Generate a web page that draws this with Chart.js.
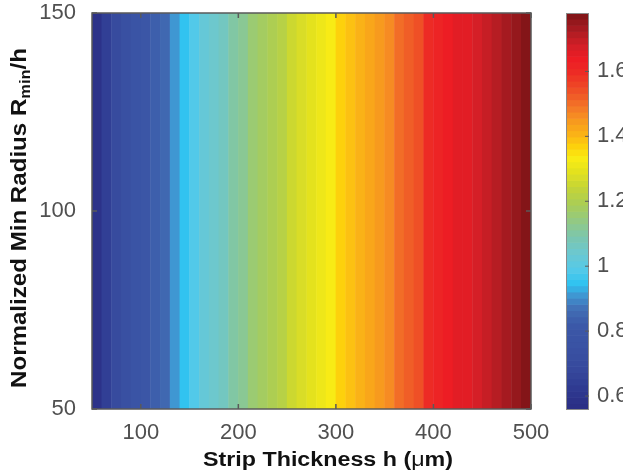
<!DOCTYPE html>
<html>
<head>
<meta charset="utf-8">
<script src="https://cdn.jsdelivr.net/npm/chart.js@4.4.0/dist/chart.umd.min.js"></script>
<style>
  html, body { margin: 0; padding: 0; background: #fff; }
  #wrap { position: relative; width: 623px; height: 476px; overflow: hidden; }
  #mapChart { position: absolute; left: 0; top: 0; }
  #barChart { position: absolute; left: 540px; top: 0; }
</style>
</head>
<body>
<div id="wrap">
  <canvas id="mapChart" width="623" height="476"></canvas>
  <canvas id="barChart" width="83" height="476"></canvas>
</div>
<script>
// strip thickness h (um), centre of each 10 um cell
const thicknessH = [55, 65, 75, 85, 95, 105, 115, 125, 135, 145,
  155, 165, 175, 185, 195, 205, 215, 225, 235, 245,
  255, 265, 275, 285, 295, 305, 315, 325, 335, 345,
  355, 365, 375, 385, 395, 405, 415, 425, 435, 445,
  455, 465, 475, 485, 495];
// colour value for each thickness cell
const stripValue = [0.58, 0.64, 0.70, 0.74, 0.77, 0.80, 0.83, 0.86, 0.91, 0.95,
  0.99, 1.02, 1.05, 1.07, 1.10, 1.13, 1.15, 1.18, 1.20, 1.22,
  1.25, 1.27, 1.29, 1.32, 1.34, 1.37, 1.39, 1.41, 1.43, 1.45,
  1.47, 1.50, 1.53, 1.55, 1.59, 1.62, 1.63, 1.65, 1.66, 1.68,
  1.70, 1.72, 1.73, 1.75, 1.77];
// normalized min radius span covered by every cell
const radiusRange = [50, 150];

const xTicks = [100, 200, 300, 400, 500];
const yTicks = [50, 100, 150];
const cbarTicks = [0.6, 0.8, 1, 1.2, 1.4, 1.6];
const cbarTickLabels = ['0.6', '0.8', '1', '1.2', '1.4', '1.6'];
const cbarMin = 0.557;
const cbarMax = 1.78;
const cbarLevels = 64;

// colormap stops: [value, colour]
const cmapStops = [
  [0.557, '#2a2d84'], [0.62, '#2e3990'], [0.68, '#36489c'], [0.75, '#3a52a3'],
  [0.82, '#3b58a8'], [0.87, '#4270b6'], [0.91, '#3f96d2'], [0.945, '#2fc3f1'],
  [0.99, '#55c9e8'], [1.04, '#6cc8d0'], [1.09, '#7bc6ae'], [1.14, '#93c983'],
  [1.19, '#a9cd56'], [1.24, '#c3d438'], [1.29, '#e3e11e'], [1.33, '#f8ec15'],
  [1.365, '#fdd50b'], [1.40, '#fbb716'], [1.44, '#f89e1c'], [1.48, '#f47f27'],
  [1.52, '#f05f27'], [1.56, '#ee4325'], [1.60, '#ed2a25'], [1.64, '#ed1c24'],
  [1.68, '#d21f27'], [1.72, '#b01c22'], [1.78, '#7c1416']
];

function hexRgb(h) {
  return [parseInt(h.slice(1, 3), 16), parseInt(h.slice(3, 5), 16), parseInt(h.slice(5, 7), 16)];
}

function cmapAt(v) {
  if (v <= cmapStops[0][0]) return cmapStops[0][1];
  for (let i = 1; i < cmapStops.length; i++) {
    if (v <= cmapStops[i][0]) {
      const a = cmapStops[i - 1], b = cmapStops[i];
      const t = (v - a[0]) / (b[0] - a[0]);
      const ca = hexRgb(a[1]), cb = hexRgb(b[1]);
      const c = ca.map((x, k) => Math.round(x + (cb[k] - x) * t));
      return `rgb(${c[0]}, ${c[1]}, ${c[2]})`;
    }
  }
  return cmapStops[cmapStops.length - 1][1];
}

// quantize to the colorbar's discrete levels
const levelStep = (cbarMax - cbarMin) / cbarLevels;
function levelColor(v) {
  let idx = Math.floor((v - cbarMin) / levelStep);
  idx = Math.max(0, Math.min(cbarLevels - 1, idx));
  return cmapAt(cbarMin + (idx + 0.5) * levelStep);
}

const levelCentres = [];
for (let i = 0; i < cbarLevels; i++) levelCentres.push(cbarMin + (i + 0.5) * levelStep);

const tickFont = { family: 'Liberation Sans, Arial, sans-serif', size: 22 };
const tickColor = '#505050';
const frameColor = '#5a5a5a';

// keep the plot box exactly where the layout padding puts it
function noScalePadding(s) {
  s.paddingTop = 0; s.paddingBottom = 0; s.paddingLeft = 0; s.paddingRight = 0;
}

// draws runs of text one after another, each with its own font / shift
function drawRuns(ctx, runs, width) {
  let total = 0;
  runs.forEach(r => { ctx.font = r.font; r.w = ctx.measureText(r.text).width; total += r.w; });
  const sx = width ? width / total : 1;
  ctx.save();
  ctx.scale(sx, 1);
  let u = -total / 2;
  runs.forEach(r => {
    ctx.font = r.font;
    ctx.fillText(r.text, u, r.dy || 0);
    u += r.w;
  });
  ctx.restore();
}

// frame, inward ticks and axis titles
const mapFrame = {
  id: 'mapFrame',
  afterDatasetsDraw(chart) {
    const { ctx, chartArea: a, scales } = chart;
    ctx.save();
    ctx.strokeStyle = frameColor;
    ctx.lineWidth = 1.5;
    ctx.strokeRect(a.left, a.top, a.right - a.left, a.bottom - a.top);
    ctx.beginPath();
    xTicks.forEach(v => {
      const px = scales.x.getPixelForValue(v);
      ctx.moveTo(px, a.bottom); ctx.lineTo(px, a.bottom - 5);
      ctx.moveTo(px, a.top); ctx.lineTo(px, a.top + 5);
    });
    yTicks.forEach(v => {
      const py = scales.y.getPixelForValue(v);
      ctx.moveTo(a.left, py); ctx.lineTo(a.left + 5, py);
      ctx.moveTo(a.right, py); ctx.lineTo(a.right - 5, py);
    });
    ctx.stroke();
    ctx.restore();
  },
  afterDraw(chart) {
    const { ctx } = chart;
    ctx.save();
    ctx.fillStyle = '#111';
    ctx.textBaseline = 'alphabetic';
    ctx.textAlign = 'left';
    ctx.save();
    ctx.translate(328, 466);
    drawRuns(ctx, [
      { text: 'Strip Thickness h (', font: 'bold 20px Liberation Sans, Arial, sans-serif' },
      { text: '\u03bc', font: '20px Liberation Sans, Arial, sans-serif' },
      { text: 'm)', font: 'bold 20px Liberation Sans, Arial, sans-serif' }
    ], 250);
    ctx.restore();
    ctx.save();
    ctx.translate(26, 218);
    ctx.rotate(-Math.PI / 2);
    drawRuns(ctx, [
      { text: 'Normalized Min Radius R', font: 'bold 22px Liberation Sans, Arial, sans-serif' },
      { text: 'min', font: 'bold 15px Liberation Sans, Arial, sans-serif', dy: 4 },
      { text: '/h', font: 'bold 22px Liberation Sans, Arial, sans-serif' }
    ], 340);
    ctx.restore();
    ctx.restore();
  }
};

new Chart('mapChart', {
  type: 'bar',
  data: {
    datasets: [{
      data: thicknessH.map(h => ({ x: h, y: radiusRange })),
      backgroundColor: stripValue.map(levelColor),
      borderWidth: 0,
      barPercentage: 1.05,
      categoryPercentage: 1
    }]
  },
  options: {
    responsive: false,
    animation: false,
    layout: { padding: { top: 13, right: 92, left: 0, bottom: 0 } },
    plugins: { legend: { display: false }, tooltip: { enabled: false } },
    scales: {
      x: {
        type: 'linear', min: 50, max: 500, offset: false,
        grid: { display: false, drawTicks: false }, border: { display: false },
        afterBuildTicks: s => { s.ticks = xTicks.map(v => ({ value: v })); },
        afterFit: s => { s.height = 67; noScalePadding(s); },
        ticks: { padding: 11, color: tickColor, font: tickFont, maxRotation: 0 }
      },
      y: {
        type: 'linear', min: 50, max: 150,
        grid: { display: false, drawTicks: false }, border: { display: false },
        afterBuildTicks: s => { s.ticks = yTicks.map(v => ({ value: v })); },
        afterFit: s => { s.width = 92; noScalePadding(s); },
        ticks: { padding: 16, color: tickColor, font: tickFont }
      }
    }
  },
  plugins: [mapFrame]
});

// colorbar frame and ticks
const barFrame = {
  id: 'barFrame',
  afterDatasetsDraw(chart) {
    const { ctx, chartArea: a, scales } = chart;
    ctx.save();
    ctx.strokeStyle = '#8a8a8a';
    ctx.lineWidth = 1;
    ctx.strokeRect(a.left + 0.5, a.top + 0.5, a.right - a.left - 1, a.bottom - a.top - 1);
    ctx.strokeStyle = frameColor;
    ctx.beginPath();
    cbarTicks.forEach(v => {
      const py = scales.y.getPixelForValue(v);
      ctx.moveTo(a.right, py); ctx.lineTo(a.right - 4, py);
    });
    ctx.stroke();
    ctx.restore();
  }
};

new Chart('barChart', {
  type: 'bar',
  data: {
    datasets: [{
      data: levelCentres.map(c => ({ x: [0, 1], y: c })),
      backgroundColor: levelCentres.map(levelColor),
      borderWidth: 0,
      barPercentage: 1.1,
      categoryPercentage: 1
    }]
  },
  options: {
    indexAxis: 'y',
    responsive: false,
    animation: false,
    layout: { padding: { left: 26, top: 13, bottom: 66, right: 0 } },
    plugins: { legend: { display: false }, tooltip: { enabled: false } },
    scales: {
      x: { type: 'linear', min: 0, max: 1, display: false },
      y: {
        type: 'linear', position: 'right', min: cbarMin, max: cbarMax, offset: false,
        grid: { display: false, drawTicks: false }, border: { display: false },
        afterBuildTicks: s => { s.ticks = cbarTicks.map(v => ({ value: v })); },
        afterFit: s => { s.width = 34; noScalePadding(s); },
        ticks: { padding: 8, color: tickColor, font: tickFont, callback: (v, i) => cbarTickLabels[i] }
      }
    }
  },
  plugins: [barFrame]
});
</script>
</body>
</html>
